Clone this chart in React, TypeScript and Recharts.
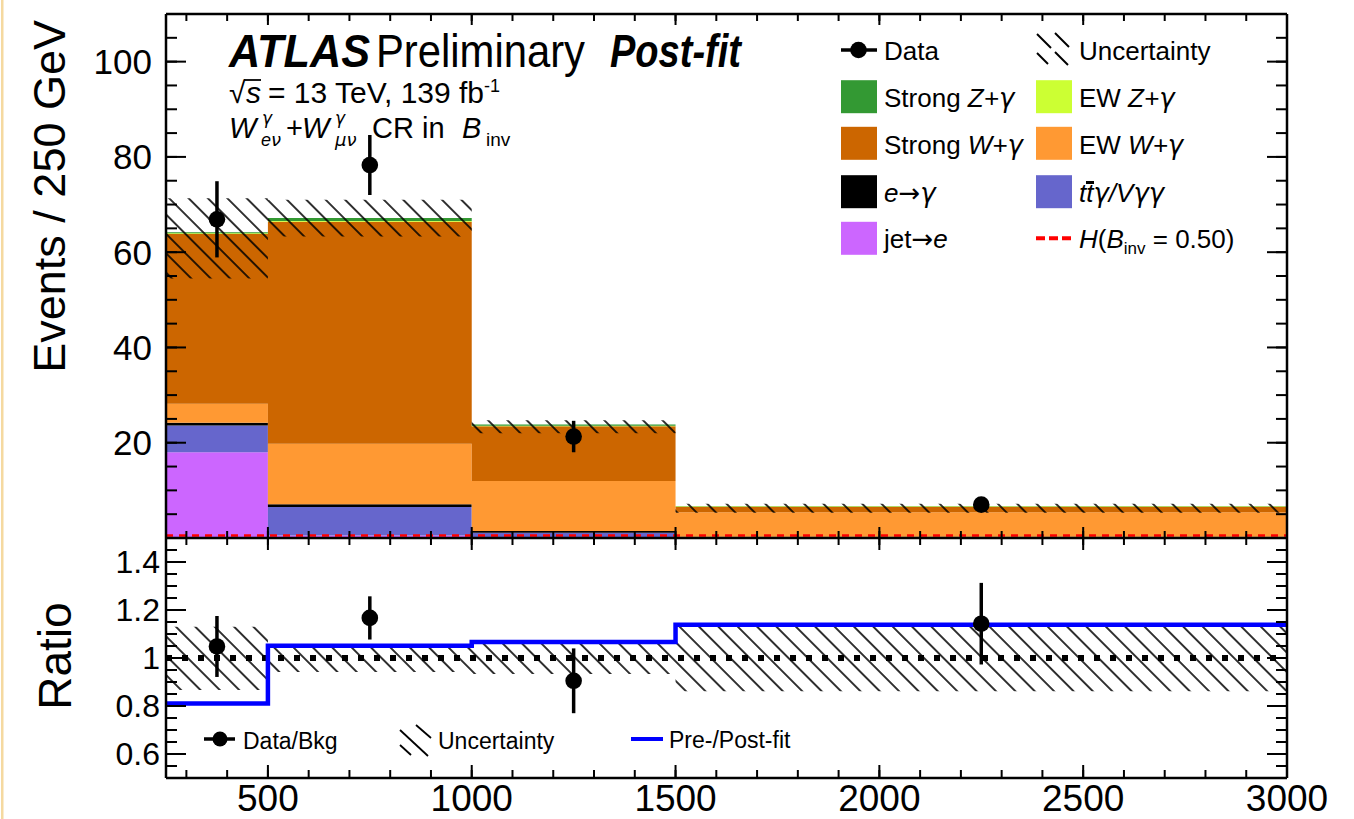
import React from "react"
import { ComposedChart, Area, Line, Scatter, ErrorBar, XAxis, YAxis, ReferenceLine } from "recharts"

const FONT = "'Liberation Sans', Arial, Helvetica, sans-serif"
const GREEK = "'DejaVu Sans', sans-serif"

// bin edges and centres (GeV)
const binEdges = [250, 500, 1000, 1500, 3000]
const binCenters = [375, 750, 1250, 2250]

// post-fit backgrounds, events / 250 GeV, stacked bottom to top
const jetToE = [18.0, 0.5, 0.1, 0.03]
const ttgVgg = [5.6, 6.0, 1.0, 0.2]
const eToGamma = [0.6, 0.6, 0.35, 0.05]
const ewWg = [4.0, 12.7, 10.5, 5.1]
const strongWg = [35.6, 46.6, 11.5, 1.2]
const ewZg = [0.15, 0.15, 0.1, 0.1]
const strongZg = [0.25, 0.6, 0.3, 0.05]
const higgs = [0.5, 0.5, 0.5, 0.5]

// total uncertainty band
const uncLo = [54.5, 63.3, 22.0, 5.3]
const uncHi = [71.3, 71.0, 24.7, 7.2]

// data
const dataVals = [66.9, 78.3, 21.3, 7.0]
const dataErr = [8.0, 6.3, 3.3, 1.1]

// ratio panel
const ratioVals = [1.048, 1.167, 0.905, 1.143]
const ratioErr = [0.127, 0.09, 0.135, 0.17]
const prefitRatio = [0.81, 1.051, 1.067, 1.139]
const ratioUncLo = [0.867, 0.942, 0.933, 0.861]
const ratioUncHi = [1.13, 1.058, 1.067, 1.139]

// ticks
const xMajorTicks = [500, 1000, 1500, 2000, 2500, 3000]
const xLabelTicks = [500, 1000, 1500, 2000, 2500, 3000]
const yMajorTicks = [20, 40, 60, 80, 100]
const ratioMajorTicks = [0.6, 0.8, 1, 1.2, 1.4]
const steps = (from: number, to: number, step: number) => {
  const out: number[] = []
  for (let v = from; v <= to + 1e-9; v += step) out.push(Math.round(v * 1000) / 1000)
  return out
}
const xMinorTicks = steps(300, 2900, 100)
const yMinorTicks = steps(5, 105, 5)
const ratioMinorTicks = steps(0.55, 1.45, 0.05)

const LAYERS = [
  { key: "jetToE", values: jetToE, color: "#cc66ff" },
  { key: "ttgVgg", values: ttgVgg, color: "#6666cc" },
  { key: "eToGamma", values: eToGamma, color: "#000000" },
  { key: "ewWg", values: ewWg, color: "#ff9933" },
  { key: "strongWg", values: strongWg, color: "#cc6600" },
  { key: "ewZg", values: ewZg, color: "#ccff33" },
  { key: "strongZg", values: strongZg, color: "#339933" },
]

// step rows: the last bin is repeated at the upper edge so the step closes
const bin = (arr: number[], i: number) => arr[Math.min(i, arr.length - 1)]

const histRows = binEdges.map((x, i) => {
  const row: Record<string, any> = { x, higgs: bin(higgs, i), unc: [bin(uncLo, i), bin(uncHi, i)] }
  LAYERS.forEach((l) => (row[l.key] = bin(l.values, i)))
  return row
})

const ratioRows = binEdges.map((x, i) => ({
  x,
  prefit: bin(prefitRatio, i),
  unc: [bin(ratioUncLo, i), bin(ratioUncHi, i)],
}))

const dataPoints = binCenters.map((x, i) => ({ x, y: dataVals[i], err: dataErr[i] }))
const ratioPoints = binCenters.map((x, i) => ({ x, y: ratioVals[i], err: ratioErr[i] }))

const frame = { stroke: "#000", strokeWidth: 2.5 }
const tickLn = { stroke: "#000", strokeWidth: 2 }
const noLabel = () => <g />

const DataDot = (p: any) => <circle cx={p.cx} cy={p.cy} r={8.3} fill="#000" />

const Hatch = () => (
  <defs>
    <pattern id="hatch" patternUnits="userSpaceOnUse" width={13.7} height={13.7} patternTransform="rotate(-45)">
      <line x1={6.85} y1={0} x2={6.85} y2={13.7} stroke="#000" strokeWidth={1.6} />
    </pattern>
  </defs>
)

// inward ticks on all four sides, plus the left tick labels
const frameAxes = (yDomain: number[], yMajor: number[], yMinor: number[], xMaj: number, xMin: number, xTopMaj: number, xTopMin: number, labelSize: number, labelMargin: number) => [
  <XAxis key="x" xAxisId="x" type="number" dataKey="x" domain={[250, 3000]} allowDataOverflow ticks={xMajorTicks} interval={0} mirror height={1} tick={noLabel} tickSize={xMaj} tickLine={tickLn} axisLine={frame} />,
  <XAxis key="xm" xAxisId="xm" type="number" dataKey="x" domain={[250, 3000]} allowDataOverflow ticks={xMinorTicks} interval={0} mirror height={1} tick={noLabel} tickSize={xMin} tickLine={tickLn} axisLine={false} />,
  <XAxis key="xt" xAxisId="xt" orientation="top" type="number" dataKey="x" domain={[250, 3000]} allowDataOverflow ticks={xMajorTicks} interval={0} mirror height={1} tick={noLabel} tickSize={xTopMaj} tickLine={tickLn} axisLine={frame} />,
  <XAxis key="xtm" xAxisId="xtm" orientation="top" type="number" dataKey="x" domain={[250, 3000]} allowDataOverflow ticks={xMinorTicks} interval={0} mirror height={1} tick={noLabel} tickSize={xTopMin} tickLine={tickLn} axisLine={false} />,
  <YAxis key="y" yAxisId="y" type="number" domain={yDomain} allowDataOverflow ticks={yMajor} interval={0} mirror width={1} tick={noLabel} tickSize={20} tickLine={tickLn} axisLine={frame} />,
  <YAxis key="ym" yAxisId="ym" type="number" domain={yDomain} allowDataOverflow ticks={yMinor} interval={0} mirror width={1} tick={noLabel} tickSize={10} tickLine={tickLn} axisLine={false} />,
  <YAxis key="yr" yAxisId="yr" orientation="right" type="number" domain={yDomain} allowDataOverflow ticks={yMajor} interval={0} mirror width={1} tick={noLabel} tickSize={20} tickLine={tickLn} axisLine={frame} />,
  <YAxis key="yrm" yAxisId="yrm" orientation="right" type="number" domain={yDomain} allowDataOverflow ticks={yMinor} interval={0} mirror width={1} tick={noLabel} tickSize={10} tickLine={tickLn} axisLine={false} />,
  <YAxis key="yl" yAxisId="yl" type="number" domain={yDomain} allowDataOverflow ticks={yMajor} interval={0} width={166} tickSize={0} tickMargin={labelMargin} tickLine={false} axisLine={false} tick={{ fill: "#000", fontSize: labelSize, fontFamily: FONT }} />,
]

const SwatchRow = ({ x, y, color }: { x: number; y: number; color: string }) => (
  <rect x={x} y={y - 16.5} width={36} height={33} fill={color} />
)

const G = ({ children }: { children: React.ReactNode }) => (
  <tspan fontFamily={GREEK} fontStyle="italic">{children}</tspan>
)
const Arrow = () => <tspan fontFamily={GREEK}>→</tspan>

const Overlay = () => (
  <svg width={1354} height={819} style={{ position: "absolute", left: 0, top: 0, pointerEvents: "none" }} fontFamily={FONT}>
    <rect x={1} y={0} width={2.5} height={819} fill="#f5d9a0" />

    {/* axis titles */}
    <text transform="translate(65,20) rotate(-90)" textAnchor="end" fontSize={45}>Events / 250 GeV</text>
    <text transform="translate(71,656) rotate(-90)" textAnchor="middle" fontSize={46}>Ratio</text>

    {/* label block */}
    <text x={229} y={67} fontSize={47} fontWeight="bold" fontStyle="italic" textLength={141} lengthAdjust="spacingAndGlyphs">ATLAS</text>
    <text x={376} y={67} fontSize={47} textLength={209} lengthAdjust="spacingAndGlyphs">Preliminary</text>
    <text x={610} y={67} fontSize={47} fontWeight="bold" fontStyle="italic" textLength={131} lengthAdjust="spacingAndGlyphs">Post-fit</text>
    <text x={229} y={103} fontSize={30}>√</text>
    <line x1={244} y1={80} x2={261} y2={80} stroke="#000" strokeWidth={1.8} />
    <text x={246} y={103} fontSize={30} fontStyle="italic">s</text>
    <text x={268} y={103} fontSize={30}>
      = 13 TeV, 139 fb<tspan fontSize={18} dy={-11}>-1</tspan>
    </text>
    <text x={229} y={138} fontSize={29} fontStyle="italic">W</text>
    <text x={262} y={124} fontSize={17}><G>γ</G></text>
    <text x={261} y={146} fontSize={18} fontStyle="italic">e<G>ν</G></text>
    <text x={286} y={138} fontSize={29}>+</text>
    <text x={302} y={138} fontSize={29} fontStyle="italic">W</text>
    <text x={335} y={124} fontSize={17}><G>γ</G></text>
    <text x={335} y={146} fontSize={18}><G>μν</G></text>
    <text x={372} y={138} fontSize={29}>CR in</text>
    <text x={462} y={138} fontSize={29} fontStyle="italic">B</text>
    <text x={486} y={146} fontSize={19}>inv</text>

    {/* legend, left column */}
    <line x1={841} y1={50} x2={877} y2={50} stroke="#000" strokeWidth={3.5} />
    <circle cx={858.5} cy={50} r={8.3} fill="#000" />
    <text x={884} y={60} fontSize={26}>Data</text>
    <SwatchRow x={841} y={96.7} color="#339933" />
    <text x={884} y={107} fontSize={26}>Strong <tspan fontStyle="italic">Z+</tspan><G>γ</G></text>
    <SwatchRow x={841} y={143.3} color="#cc6600" />
    <text x={884} y={154} fontSize={26}>Strong <tspan fontStyle="italic">W+</tspan><G>γ</G></text>
    <SwatchRow x={841} y={191.7} color="#000000" />
    <text x={884} y={201.5} fontSize={26}><tspan fontStyle="italic">e</tspan><Arrow /><G>γ</G></text>
    <SwatchRow x={841} y={238.3} color="#cc66ff" />
    <text x={884} y={248} fontSize={26}>jet<Arrow /><tspan fontStyle="italic">e</tspan></text>

    {/* legend, right column */}
    <g stroke="#000" strokeWidth={2}>
      <line x1={1037} y1={34} x2={1051} y2={48} />
      <line x1={1055} y1={52} x2={1068} y2={65} />
      <line x1={1037} y1={53} x2={1048} y2={64} />
      <line x1={1055} y1={33} x2={1069} y2={47} />
    </g>
    <text x={1079} y={60} fontSize={26}>Uncertainty</text>
    <SwatchRow x={1036} y={96.7} color="#ccff33" />
    <text x={1079} y={107} fontSize={26}>EW <tspan fontStyle="italic">Z+</tspan><G>γ</G></text>
    <SwatchRow x={1036} y={143.3} color="#ff9933" />
    <text x={1079} y={154} fontSize={26}>EW <tspan fontStyle="italic">W+</tspan><G>γ</G></text>
    <SwatchRow x={1036} y={191.7} color="#6666cc" />
    <text x={1079} y={201.5} fontSize={26} fontStyle="italic">tt<G>γ</G>/V<G>γγ</G></text>
    <rect x={1086} y={181} width={8} height={3} fill="#000" />
    <line x1={1036} y1={238.3} x2={1072} y2={238.3} stroke="#ff0000" strokeWidth={4} strokeDasharray="9 4" />
    <text x={1079} y={248} fontSize={26}>
      <tspan fontStyle="italic">H</tspan>(<tspan fontStyle="italic">B</tspan>
      <tspan fontSize={17} dy={6}>inv</tspan>
      <tspan dy={-6}> = 0.50)</tspan>
    </text>

    {/* ratio legend */}
    <line x1={204} y1={739} x2={235} y2={739} stroke="#000" strokeWidth={3.5} />
    <circle cx={220} cy={739} r={7.5} fill="#000" />
    <text x={243} y={749} fontSize={23}>Data/Bkg</text>
    <g stroke="#000" strokeWidth={1.8}>
      <line x1={416} y1={725} x2={431} y2={738} />
      <line x1={400} y1={730} x2={428} y2={756} />
      <line x1={400} y1={745} x2={411} y2={755} />
    </g>
    <text x={438} y={749} fontSize={23}>Uncertainty</text>
    <line x1={631} y1={739} x2={663} y2={739} stroke="#0000ff" strokeWidth={4} />
    <text x={669} y={748} fontSize={23}>Pre-/Post-fit</text>
  </svg>
)

export default function App() {
  return (
    <div style={{ position: "absolute", left: 0, top: 0, width: 1354, height: 819, background: "#fff" }}>
      <div style={{ position: "absolute", left: 0, top: 0 }}>
        <ComposedChart width={1354} height={539} data={histRows} margin={{ top: 14, right: 67, bottom: 1, left: 0 }}>
          <Hatch />
          {frameAxes([0, 110], yMajorTicks, yMinorTicks, 11, 6, 11, 6, 35, 14)}
          {LAYERS.map((l) => (
            <Area
              key={l.key}
              xAxisId="x"
              yAxisId="y"
              dataKey={l.key}
              stackId="bkg"
              type="stepAfter"
              stroke="none"
              fill={l.color}
              fillOpacity={1}
              isAnimationActive={false}
            />
          ))}
          <Area xAxisId="x" yAxisId="y" dataKey="unc" type="stepAfter" stroke="none" fill="url(#hatch)" fillOpacity={1} isAnimationActive={false} />
          <Line xAxisId="x" yAxisId="y" dataKey="higgs" type="stepAfter" stroke="#ff0000" strokeWidth={2.5} strokeDasharray="7 6" dot={false} activeDot={false} isAnimationActive={false} />
          <Scatter xAxisId="x" yAxisId="y" data={dataPoints} dataKey="y" shape={DataDot} isAnimationActive={false}>
            <ErrorBar dataKey="err" direction="y" width={0} stroke="#000" strokeWidth={3.5} isAnimationActive={false} />
          </Scatter>
        </ComposedChart>
      </div>
      <div style={{ position: "absolute", left: 0, top: 538 }}>
        <ComposedChart width={1354} height={281} data={ratioRows} margin={{ top: 0, right: 67, bottom: 0, left: 0 }}>
          {frameAxes([0.5, 1.5], ratioMajorTicks, ratioMinorTicks, 13, 7, 12, 6, 32, 6)}
          <XAxis
            xAxisId="xl"
            type="number"
            dataKey="x"
            domain={[250, 3000]}
            allowDataOverflow
            ticks={xLabelTicks}
            interval={0}
            height={41}
            tickSize={0}
            tickMargin={7}
            tickLine={false}
            axisLine={false}
            tick={{ fill: "#000", fontSize: 37, fontFamily: FONT }}
          />
          <Area xAxisId="x" yAxisId="y" dataKey="unc" type="stepAfter" stroke="none" fill="url(#hatch)" fillOpacity={1} isAnimationActive={false} />
          <ReferenceLine xAxisId="x" yAxisId="y" y={1} stroke="#000" strokeWidth={6} strokeDasharray="6 10" />
          <Line xAxisId="x" yAxisId="y" dataKey="prefit" type="stepAfter" stroke="#0000ff" strokeWidth={4.5} dot={false} activeDot={false} isAnimationActive={false} />
          <Scatter xAxisId="x" yAxisId="y" data={ratioPoints} dataKey="y" shape={DataDot} isAnimationActive={false}>
            <ErrorBar dataKey="err" direction="y" width={0} stroke="#000" strokeWidth={3.5} isAnimationActive={false} />
          </Scatter>
        </ComposedChart>
      </div>
      <Overlay />
    </div>
  )
}
